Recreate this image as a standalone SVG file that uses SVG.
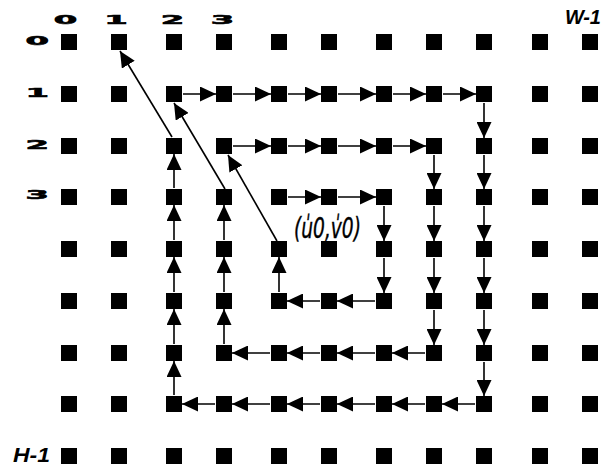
<svg xmlns="http://www.w3.org/2000/svg" xmlns:xlink="http://www.w3.org/1999/xlink" width="608" height="468" viewBox="0 0 608 468">
<style>
.dg{font-family:"DejaVu Sans","Liberation Sans",sans-serif;font-weight:bold;font-size:12.5px;fill:#000;stroke:#000;stroke-width:0.6}
.lb{font-family:"Liberation Sans",Arial,sans-serif;font-weight:bold;font-style:italic;font-size:20px;fill:#000}
.uv{font-family:"DejaVu Sans","Liberation Sans",sans-serif;font-style:italic;font-size:28px;fill:#000;stroke:#000;stroke-width:0.4}
.c line{stroke:#000;stroke-width:1.6;marker-end:url(#ah)}
</style>
<defs>
<rect id="sq" width="16" height="16" fill="#000"/>
<marker id="ah" markerUnits="userSpaceOnUse" markerWidth="16" markerHeight="15" refX="16" refY="7.5" orient="auto" viewBox="0 0 16 15">
<path d="M0,0 L16,7.5 L0,15 Z" fill="#000"/>
</marker>
</defs>
<rect width="608" height="468" fill="#fff"/>
<g id="labels">
<text class="dg" text-anchor="middle" transform="translate(65.5,23.5) scale(2.7,1)">0</text>
<text class="dg" text-anchor="middle" transform="translate(116,23.5) scale(2.7,1)">1</text>
<text class="dg" text-anchor="middle" transform="translate(172.5,23.5) scale(2.7,1)">2</text>
<text class="dg" text-anchor="middle" transform="translate(222.5,23.5) scale(2.7,1)">3</text>
<text class="dg" text-anchor="end" transform="translate(49,44.5) scale(2.7,1)">0</text>
<text class="dg" text-anchor="end" transform="translate(49,97) scale(2.7,1)">1</text>
<text class="dg" text-anchor="end" transform="translate(49,148.5) scale(2.7,1)">2</text>
<text class="dg" text-anchor="end" transform="translate(49,198.5) scale(2.7,1)">3</text>
<text class="lb" x="565" y="24">W-1</text>
<text class="lb" x="13" y="462" textLength="37" lengthAdjust="spacingAndGlyphs">H-1</text>
<text class="uv" x="294" y="238" textLength="67" lengthAdjust="spacingAndGlyphs">(u&#x30D;0,v&#x30D;0)</text>
</g>
<g id="nodes">
<g id="n0-0"><use href="#sq" x="61" y="34"/></g><g id="n0-1"><use href="#sq" x="111" y="34"/></g><g id="n0-2"><use href="#sq" x="166" y="34"/></g><g id="n0-3"><use href="#sq" x="216" y="34"/></g><g id="n0-4"><use href="#sq" x="271" y="34"/></g><g id="n0-5"><use href="#sq" x="321" y="34"/></g><g id="n0-6"><use href="#sq" x="376" y="34"/></g><g id="n0-7"><use href="#sq" x="426" y="34"/></g><g id="n0-8"><use href="#sq" x="476" y="34"/></g><g id="n0-9"><use href="#sq" x="532" y="34"/></g><g id="n0-10"><use href="#sq" x="582" y="34"/></g>
<g id="n1-0"><use href="#sq" x="61" y="86"/></g><g id="n1-1"><use href="#sq" x="111" y="86"/></g><g id="n1-2"><use href="#sq" x="166" y="86"/></g><g id="n1-3"><use href="#sq" x="216" y="86"/></g><g id="n1-4"><use href="#sq" x="271" y="86"/></g><g id="n1-5"><use href="#sq" x="321" y="86"/></g><g id="n1-6"><use href="#sq" x="376" y="86"/></g><g id="n1-7"><use href="#sq" x="426" y="86"/></g><g id="n1-8"><use href="#sq" x="476" y="86"/></g><g id="n1-9"><use href="#sq" x="532" y="86"/></g><g id="n1-10"><use href="#sq" x="582" y="86"/></g>
<g id="n2-0"><use href="#sq" x="61" y="138"/></g><g id="n2-1"><use href="#sq" x="111" y="138"/></g><g id="n2-2"><use href="#sq" x="166" y="138"/></g><g id="n2-3"><use href="#sq" x="216" y="138"/></g><g id="n2-4"><use href="#sq" x="271" y="138"/></g><g id="n2-5"><use href="#sq" x="321" y="138"/></g><g id="n2-6"><use href="#sq" x="376" y="138"/></g><g id="n2-7"><use href="#sq" x="426" y="138"/></g><g id="n2-8"><use href="#sq" x="476" y="138"/></g><g id="n2-9"><use href="#sq" x="532" y="138"/></g><g id="n2-10"><use href="#sq" x="582" y="138"/></g>
<g id="n3-0"><use href="#sq" x="61" y="189"/></g><g id="n3-1"><use href="#sq" x="111" y="189"/></g><g id="n3-2"><use href="#sq" x="166" y="189"/></g><g id="n3-3"><use href="#sq" x="216" y="189"/></g><g id="n3-4"><use href="#sq" x="271" y="189"/></g><g id="n3-5"><use href="#sq" x="321" y="189"/></g><g id="n3-6"><use href="#sq" x="376" y="189"/></g><g id="n3-7"><use href="#sq" x="426" y="189"/></g><g id="n3-8"><use href="#sq" x="476" y="189"/></g><g id="n3-9"><use href="#sq" x="532" y="189"/></g><g id="n3-10"><use href="#sq" x="582" y="189"/></g>
<g id="n4-0"><use href="#sq" x="61" y="241"/></g><g id="n4-1"><use href="#sq" x="111" y="241"/></g><g id="n4-2"><use href="#sq" x="166" y="241"/></g><g id="n4-3"><use href="#sq" x="216" y="241"/></g><g id="n4-4"><use href="#sq" x="271" y="241"/></g><g id="n4-5"><use href="#sq" x="321" y="241"/></g><g id="n4-6"><use href="#sq" x="376" y="241"/></g><g id="n4-7"><use href="#sq" x="426" y="241"/></g><g id="n4-8"><use href="#sq" x="476" y="241"/></g><g id="n4-9"><use href="#sq" x="532" y="241"/></g><g id="n4-10"><use href="#sq" x="582" y="241"/></g>
<g id="n5-0"><use href="#sq" x="61" y="293"/></g><g id="n5-1"><use href="#sq" x="111" y="293"/></g><g id="n5-2"><use href="#sq" x="166" y="293"/></g><g id="n5-3"><use href="#sq" x="216" y="293"/></g><g id="n5-4"><use href="#sq" x="271" y="293"/></g><g id="n5-5"><use href="#sq" x="321" y="293"/></g><g id="n5-6"><use href="#sq" x="376" y="293"/></g><g id="n5-7"><use href="#sq" x="426" y="293"/></g><g id="n5-8"><use href="#sq" x="476" y="293"/></g><g id="n5-9"><use href="#sq" x="532" y="293"/></g><g id="n5-10"><use href="#sq" x="582" y="293"/></g>
<g id="n6-0"><use href="#sq" x="61" y="345"/></g><g id="n6-1"><use href="#sq" x="111" y="345"/></g><g id="n6-2"><use href="#sq" x="166" y="345"/></g><g id="n6-3"><use href="#sq" x="216" y="345"/></g><g id="n6-4"><use href="#sq" x="271" y="345"/></g><g id="n6-5"><use href="#sq" x="321" y="345"/></g><g id="n6-6"><use href="#sq" x="376" y="345"/></g><g id="n6-7"><use href="#sq" x="426" y="345"/></g><g id="n6-8"><use href="#sq" x="476" y="345"/></g><g id="n6-9"><use href="#sq" x="532" y="345"/></g><g id="n6-10"><use href="#sq" x="582" y="345"/></g>
<g id="n7-0"><use href="#sq" x="61" y="396"/></g><g id="n7-1"><use href="#sq" x="111" y="396"/></g><g id="n7-2"><use href="#sq" x="166" y="396"/></g><g id="n7-3"><use href="#sq" x="216" y="396"/></g><g id="n7-4"><use href="#sq" x="271" y="396"/></g><g id="n7-5"><use href="#sq" x="321" y="396"/></g><g id="n7-6"><use href="#sq" x="376" y="396"/></g><g id="n7-7"><use href="#sq" x="426" y="396"/></g><g id="n7-8"><use href="#sq" x="476" y="396"/></g><g id="n7-9"><use href="#sq" x="532" y="396"/></g><g id="n7-10"><use href="#sq" x="582" y="396"/></g>
<g id="n8-0"><use href="#sq" x="61" y="448"/></g><g id="n8-1"><use href="#sq" x="111" y="448"/></g><g id="n8-2"><use href="#sq" x="166" y="448"/></g><g id="n8-3"><use href="#sq" x="216" y="448"/></g><g id="n8-4"><use href="#sq" x="271" y="448"/></g><g id="n8-5"><use href="#sq" x="321" y="448"/></g><g id="n8-6"><use href="#sq" x="376" y="448"/></g><g id="n8-7"><use href="#sq" x="426" y="448"/></g><g id="n8-8"><use href="#sq" x="476" y="448"/></g><g id="n8-9"><use href="#sq" x="532" y="448"/></g><g id="n8-10"><use href="#sq" x="582" y="448"/></g>
</g>
<g id="connectors" class="c">
<line x1="288" y1="197" x2="321" y2="197"/>
<line x1="338" y1="197" x2="376" y2="197"/>
<line x1="384" y1="206" x2="384" y2="241"/>
<line x1="384" y1="258" x2="384" y2="293"/>
<line x1="375" y1="301" x2="337" y2="301"/>
<line x1="320" y1="301" x2="287" y2="301"/>
<line x1="279" y1="292" x2="279" y2="257"/>
<line x1="277" y1="241" x2="228" y2="155"/>
<line x1="233" y1="146" x2="271" y2="146"/>
<line x1="288" y1="146" x2="321" y2="146"/>
<line x1="338" y1="146" x2="376" y2="146"/>
<line x1="393" y1="146" x2="426" y2="146"/>
<line x1="434" y1="155" x2="434" y2="189"/>
<line x1="434" y1="206" x2="434" y2="241"/>
<line x1="434" y1="258" x2="434" y2="293"/>
<line x1="434" y1="310" x2="434" y2="345"/>
<line x1="425" y1="353" x2="392" y2="353"/>
<line x1="375" y1="353" x2="337" y2="353"/>
<line x1="320" y1="353" x2="287" y2="353"/>
<line x1="270" y1="353" x2="232" y2="353"/>
<line x1="224" y1="344" x2="224" y2="309"/>
<line x1="224" y1="292" x2="224" y2="257"/>
<line x1="224" y1="240" x2="224" y2="205"/>
<line x1="225" y1="189" x2="174" y2="103"/>
<line x1="183" y1="94" x2="216" y2="94"/>
<line x1="233" y1="94" x2="271" y2="94"/>
<line x1="288" y1="94" x2="321" y2="94"/>
<line x1="338" y1="94" x2="376" y2="94"/>
<line x1="393" y1="94" x2="426" y2="94"/>
<line x1="443" y1="94" x2="476" y2="94"/>
<line x1="484" y1="103" x2="484" y2="138"/>
<line x1="484" y1="155" x2="484" y2="189"/>
<line x1="484" y1="206" x2="484" y2="241"/>
<line x1="484" y1="258" x2="484" y2="293"/>
<line x1="484" y1="310" x2="484" y2="345"/>
<line x1="484" y1="362" x2="484" y2="396"/>
<line x1="475" y1="404" x2="442" y2="404"/>
<line x1="425" y1="404" x2="392" y2="404"/>
<line x1="375" y1="404" x2="337" y2="404"/>
<line x1="320" y1="404" x2="287" y2="404"/>
<line x1="270" y1="404" x2="232" y2="404"/>
<line x1="215" y1="404" x2="182" y2="404"/>
<line x1="174" y1="395" x2="174" y2="361"/>
<line x1="174" y1="344" x2="174" y2="309"/>
<line x1="174" y1="292" x2="174" y2="257"/>
<line x1="174" y1="240" x2="174" y2="205"/>
<line x1="174" y1="188" x2="174" y2="154"/>
<line x1="172" y1="137" x2="120" y2="51"/>
</g>
</svg>
